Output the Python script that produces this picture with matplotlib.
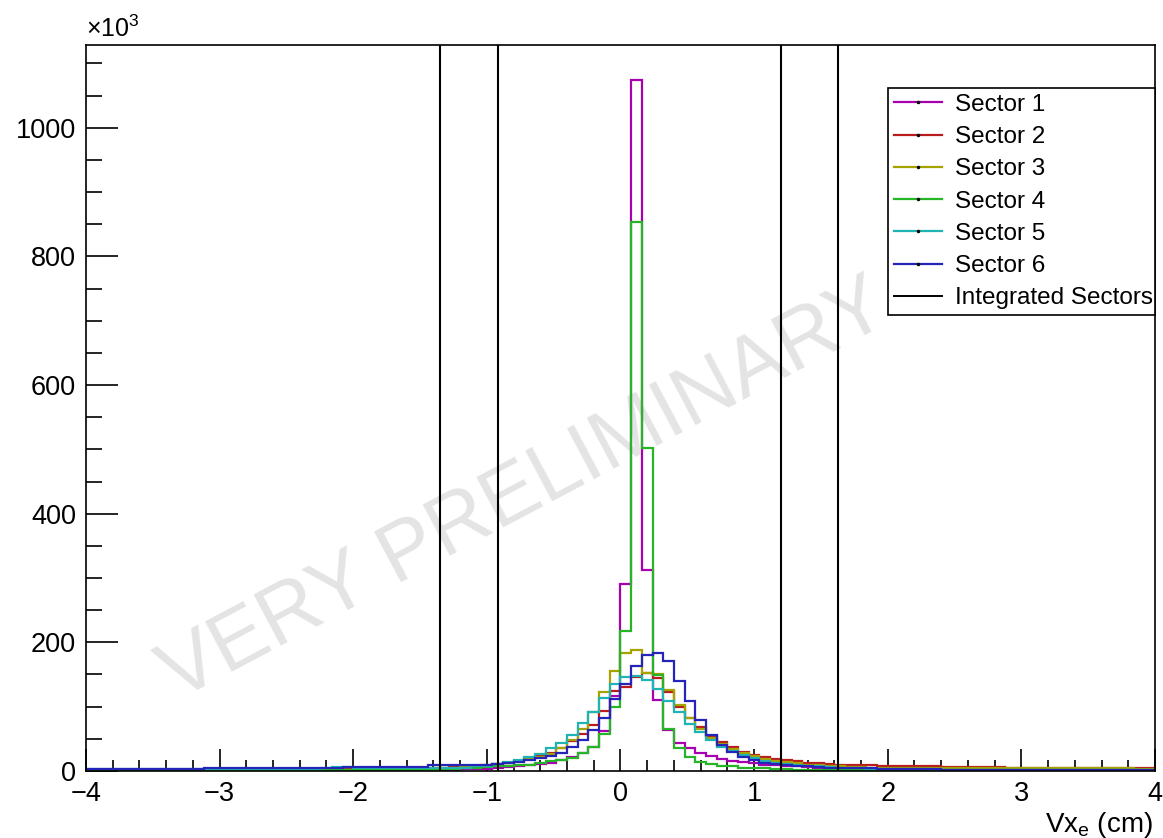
import numpy as np
import matplotlib
matplotlib.use("Agg")
import matplotlib.pyplot as plt
from matplotlib.lines import Line2D
from matplotlib.ticker import MultipleLocator

plt.rcParams['font.family'] = ['Liberation Sans', 'DejaVu Sans']
plt.rcParams['mathtext.fontset'] = 'custom'
plt.rcParams['mathtext.rm'] = 'Liberation Sans'
plt.rcParams['mathtext.it'] = 'Liberation Sans:italic'

# binning: 100 bins of 0.08 cm between -4 and 4
x_min, x_max, n_bins = -4.0, 4.0, 100

# counts per bin, in thousands
sector1 = [
    1, 1, 1, 1, 1, 1, 1, 1, 1, 1,
    1, 1, 1, 1, 1, 1, 1, 1, 1, 1,
    1, 1, 1, 1, 1, 1, 1, 1, 1, 1,
    1, 1, 2, 2, 2, 3, 3, 3, 4, 6,
    7, 9, 11, 13, 17, 22, 28, 38, 62, 117,
    291, 1075, 313, 110, 64, 44, 35, 28, 23, 19,
    16, 14, 12, 10, 9, 8, 7, 6, 5, 5,
    4, 3, 3, 3, 2, 2, 2, 2, 2, 2,
    1, 1, 1, 1, 1, 1, 1, 1, 1, 1,
    1, 1, 1, 1, 1, 1, 1, 1, 1, 1,
]
sector2 = [
    1, 1, 1, 1, 1, 1, 1, 1, 1, 1,
    1, 2, 2, 2, 2, 2, 2, 2, 2, 2,
    2, 2, 3, 3, 3, 3, 3, 3, 4, 4,
    4, 4, 5, 5, 6, 7, 8, 9, 11, 13,
    15, 19, 23, 28, 36, 46, 58, 72, 93, 125,
    131, 146, 152, 145, 122, 100, 82, 68, 55, 45,
    37, 30, 25, 21, 18, 17, 15, 12, 12, 11,
    10, 9, 9, 9, 8, 7, 7, 7, 7, 7,
    6, 6, 6, 6, 6, 6, 4, 4, 4, 4,
    4, 4, 4, 4, 4, 4, 4, 4, 4, 4,
]
sector3 = [
    1, 1, 1, 1, 1, 1, 1, 1, 1, 1,
    1, 1, 1, 1, 1, 1, 1, 1, 1, 1,
    1, 1, 2, 2, 2, 2, 2, 2, 2, 3,
    3, 3, 3, 4, 5, 6, 7, 8, 10, 12,
    15, 18, 22, 27, 35, 48, 66, 92, 122, 155,
    183, 188, 152, 150, 126, 103, 82, 65, 52, 42,
    34, 28, 23, 19, 16, 14, 12, 10, 9, 8,
    7, 6, 6, 5, 5, 5, 5, 4, 4, 4,
    4, 4, 4, 4, 4, 4, 4, 4, 4, 4,
    4, 4, 4, 4, 4, 4, 4, 4, 3, 3,
]
sector4 = [
    1, 1, 1, 1, 1, 1, 1, 1, 1, 1,
    1, 2, 2, 2, 2, 2, 2, 2, 1, 1,
    1, 1, 2, 2, 2, 2, 2, 2, 2, 2,
    2, 2, 2, 3, 3, 4, 5, 6, 7, 8,
    9, 10, 12, 15, 17, 20, 28, 38, 57, 100,
    217, 854, 502, 149, 65, 35, 22, 14, 11, 8,
    7, 5, 4, 4, 3, 3, 2, 2, 2, 2,
    2, 2, 2, 2, 2, 2, 2, 1, 1, 1,
    1, 1, 1, 1, 1, 1, 1, 1, 1, 1,
    1, 1, 1, 1, 1, 1, 1, 1, 1, 1,
]
sector5 = [
    3, 3, 3, 3, 3, 3, 3, 3, 3, 3,
    3, 3, 3, 3, 3, 3, 3, 3, 3, 3,
    3, 3, 4, 6, 6, 4, 4, 4, 4, 4,
    4, 4, 4, 4, 4, 5, 7, 8, 11, 14,
    17, 21, 26, 35, 44, 56, 75, 92, 113, 135,
    146, 148, 142, 127, 108, 92, 73, 61, 48, 38,
    31, 25, 20, 16, 13, 11, 9, 8, 7, 6,
    5, 4, 4, 3, 3, 3, 3, 3, 3, 2,
    2, 2, 2, 2, 2, 2, 2, 2, 2, 2,
    2, 2, 2, 2, 2, 2, 2, 2, 2, 2,
]
sector6 = [
    3, 3, 3, 3, 3, 3, 3, 3, 3, 3,
    3, 4, 4, 4, 4, 4, 4, 4, 4, 4,
    4, 4, 4, 4, 6, 6, 6, 6, 6, 6,
    6, 6, 9, 9, 9, 9, 9, 10, 11, 13,
    14, 17, 20, 24, 28, 37, 48, 64, 83, 112,
    135, 163, 181, 183, 171, 140, 108, 80, 56, 40,
    29, 22, 17, 13, 11, 9, 8, 7, 6, 5,
    5, 4, 4, 4, 3, 3, 3, 3, 3, 3,
    2, 2, 2, 2, 2, 2, 2, 2, 2, 2,
    2, 2, 2, 2, 2, 2, 2, 2, 2, 2,
]

sector_counts = [sector1, sector2, sector3, sector4, sector5, sector6]
sector_names = ['Sector 1', 'Sector 2', 'Sector 3', 'Sector 4', 'Sector 5', 'Sector 6']
sector_colors = ['#a800b0', '#b81c1c', '#a6a200', '#26b526', '#1fb3b3', '#2424b8']

# vertex cut positions (cm)
cut_lines = [-1.35, -0.92, 1.20, 1.63]

edges = np.linspace(x_min, x_max, n_bins + 1)

fig = plt.figure(figsize=(11.63, 8.38), dpi=100)
ax = fig.add_axes([0.0739, 0.0800, 0.9192, 0.8663])

ax.text(-0.72, 435, 'VERY PRELIMINARY', rotation=28, fontsize=60,
        color='#e4e4e4', ha='center', va='center', rotation_mode='anchor',
        zorder=0)

for counts, col in zip(sector_counts, sector_colors):
    ax.stairs(counts, edges, color=col, lw=1.6, baseline=None, zorder=2)

for xc in cut_lines:
    ax.axvline(xc, color='black', lw=1.5, zorder=3)

ax.set_xlim(x_min, x_max)
ax.set_ylim(0, 1.05 * max(sector1))

ax.xaxis.set_major_locator(MultipleLocator(1))
ax.xaxis.set_minor_locator(MultipleLocator(0.2))
ax.yaxis.set_major_locator(MultipleLocator(200))
ax.yaxis.set_minor_locator(MultipleLocator(50))
ax.tick_params(which='both', direction='in', top=False, right=False,
               width=1.2, labelsize=19.5)
ax.tick_params(axis='y', which='major', length=23, pad=7)
ax.tick_params(axis='y', which='minor', length=11.5)
ax.tick_params(axis='x', which='major', length=16, pad=7.5)
ax.tick_params(axis='x', which='minor', length=8)
for sp in ax.spines.values():
    sp.set_linewidth(1.2)

ax.set_xlabel(r'Vx$_{\mathrm{e}}$ (cm)', fontsize=20, ha='right')
ax.xaxis.set_label_coords(0.998, -0.054)
ax.text(0.0, 1.004, '×10$^{3}$', transform=ax.transAxes,
        fontsize=18, ha='left', va='bottom')

handles = [Line2D([0], [0], color=c, lw=1.6, marker='o', markersize=1.5,
                  markerfacecolor='black', markeredgecolor='black')
           for c in sector_colors]
handles.append(Line2D([0], [0], color='black', lw=1.4))
labels = sector_names + ['Integrated Sectors']
leg = ax.legend(handles, labels, loc='upper left',
                bbox_to_anchor=(0.750, 0.625, 0.25, 0.316), mode='expand',
                borderaxespad=0, fontsize=17.5, numpoints=1,
                handlelength=2.0, handletextpad=0.5, labelspacing=0.42,
                borderpad=0.25, fancybox=False, framealpha=1,
                edgecolor='black')
leg.get_frame().set_linewidth(1.2)
leg.set_zorder(5)

fig.savefig('out.png', dpi=100)
